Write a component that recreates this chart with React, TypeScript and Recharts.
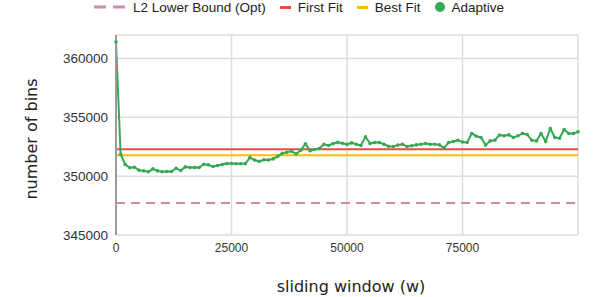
import { LineChart, Line, XAxis, YAxis, CartesianGrid, Label } from "recharts";

// sliding window sizes, step 1000
const windowSizes: number[] = Array.from({ length: 101 }, (_, i) => i * 1000);

const adaptive: number[] = [
  361400, 351870, 350990, 350710, 350760, 350510, 350450, 350370, 350620, 350450,
  350370, 350400, 350400, 350680, 350480, 350790, 350740, 350740, 350740, 351020,
  350960, 350820, 350910, 350990, 351070, 351080, 351060, 351060, 351070, 351580,
  351370, 351260, 351400, 351370, 351470, 351680, 351950, 352040, 352130, 351880,
  352200, 352760, 352160, 352270, 352350, 352710, 352610, 352780, 352890, 352800,
  352700, 352830, 352720, 352610, 353340, 352780, 352860, 352860, 352720, 352550,
  352520, 352640, 352720, 352520, 352580, 352660, 352720, 352780, 352720, 352720,
  352660, 352410, 352860, 352950, 353060, 352900, 352860, 353630, 353400, 353290,
  352640, 353000, 353060, 353490, 353430, 353510, 353290, 353430, 353630, 353540,
  353060, 353000, 353630, 352950, 354050, 353290, 353230, 353970, 353630, 353630,
  353770,
];

const l2LowerBound = 347710;
const firstFit = 352290;
const bestFit = 351780;

const xTicks = [0, 25000, 50000, 75000, 100000];
const yTicks = [345000, 350000, 355000, 360000];

const data = windowSizes.map((w, i) => ({
  w,
  l2: l2LowerBound,
  ff: firstFit,
  bf: bestFit,
  adaptive: adaptive[i],
}));

const legendItems = [
  { name: "L2 Lower Bound (Opt)", color: "#d08aae", kind: "dash" },
  { name: "First Fit", color: "#ee4b3f", kind: "line" },
  { name: "Best Fit", color: "#fbbc04", kind: "line" },
  { name: "Adaptive", color: "#34a853", kind: "dot" },
];

function LegendRow() {
  return (
    <div
      style={{
        position: "absolute",
        top: 0,
        left: 0,
        width: 598,
        height: 14,
        display: "flex",
        justifyContent: "center",
        alignItems: "center",
        gap: 14,
        fontFamily: "'Liberation Sans', Arial, sans-serif",
        fontSize: 13.5,
        color: "#222",
      }}
    >
      {legendItems.map((it) => (
        <div key={it.name} style={{ display: "flex", alignItems: "center", gap: 7 }}>
          {it.kind === "dash" && (
            <svg width={32} height={4}>
              <line x1={0} y1={2} x2={32} y2={2} stroke={it.color} strokeWidth={3} strokeDasharray="12 7" />
            </svg>
          )}
          {it.kind === "line" && <div style={{ width: 11, height: 3, background: it.color }} />}
          {it.kind === "dot" && (
            <div style={{ width: 10, height: 10, borderRadius: 5, background: it.color }} />
          )}
          <span>{it.name}</span>
        </div>
      ))}
    </div>
  );
}

export default function App() {
  return (
    <div style={{ position: "absolute", left: 0, top: 0, width: 598, height: 297, background: "#fff" }}>
      <LineChart width={598} height={297} data={data} margin={{ top: 35, right: 20, bottom: 0, left: 0 }}>
        <CartesianGrid stroke="#dcdcdc" strokeWidth={1.5} />
        <XAxis
          dataKey="w"
          type="number"
          domain={[0, 100000]}
          ticks={xTicks}
          tickFormatter={(v: number) => (v === 100000 ? "" : String(v))}
          tickLine={false}
          axisLine={false}
          height={62}
          tick={{ fontSize: 12, fill: "#333", fontFamily: "'Liberation Sans', Arial, sans-serif" }}
        >
          <Label
            content={() => (
              <text
                x={351}
                y={292}
                textAnchor="middle"
                fontSize={16}
                fill="#222"
                fontFamily="'DejaVu Sans', Verdana, sans-serif"
              >
                sliding window (w)
              </text>
            )}
          />
        </XAxis>
        <YAxis
          type="number"
          domain={[345000, 362000]}
          ticks={yTicks}
          width={116}
          tickLine={false}
          axisLine={{ stroke: "#9a9a9a", strokeWidth: 2 }}
          tick={{ fontSize: 13.5, fill: "#333", fontFamily: "'Liberation Sans', Arial, sans-serif" }}
        >
          <Label
            content={() => (
              <text
                x={37}
                y={139}
                textAnchor="middle"
                transform="rotate(-90 37 139)"
                fontSize={16}
                fill="#222"
                fontFamily="'DejaVu Sans', Verdana, sans-serif"
              >
                number of bins
              </text>
            )}
          />
        </YAxis>
        <Line dataKey="l2" stroke="#d08aae" strokeWidth={2} strokeDasharray="9 6" dot={false} isAnimationActive={false} />
        <Line dataKey="ff" stroke="#ee4b3f" strokeWidth={2} dot={false} isAnimationActive={false} />
        <Line dataKey="bf" stroke="#fbbc04" strokeWidth={2} dot={false} isAnimationActive={false} />
        <Line
          dataKey="adaptive"
          stroke="#34a853"
          strokeWidth={2}
          dot={{ r: 1.8, fill: "#34a853", stroke: "none" }}
          isAnimationActive={false}
        />
      </LineChart>
      <LegendRow />
    </div>
  );
}
